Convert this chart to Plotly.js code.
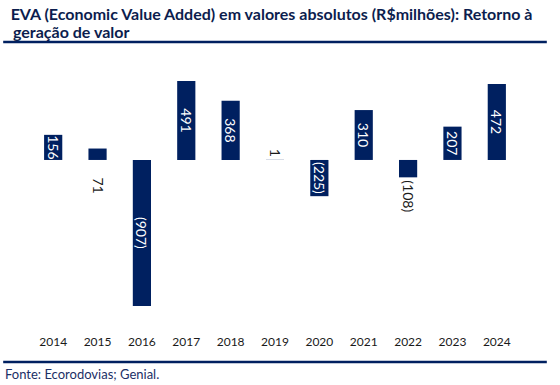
<!DOCTYPE html>
<html>
<head>
<meta charset="utf-8">
<script src="https://cdn.plot.ly/plotly-3.0.1.min.js"></script>
<style>html,body{margin:0;padding:0;background:#fff;}#chart{width:560px;height:385px;}</style>
</head>
<body>
<div id="chart"></div>
<script>
const years = ["2014","2015","2016","2017","2018","2019","2020","2021","2022","2023","2024"];
const eva = [156, 71, -907, 491, 368, 1, -225, 310, -108, 207, 472];
const labels = ["156","71","(907)","491","368","1","(225)","310","(108)","207","472"];
const labelPlacement = ["inside","below","inside","inside","inside","outside","inside","inside","outside","inside","inside"];

const titleLine1 = "EVA (Economic Value Added) em valores absolutos (R$milhões): Retorno à";
const titleLine2 = "geração de valor";
const sourceText = "Fonte: Ecorodovias; Genial.";

const navy = "#002060";
const titleColor = "#0c1d4e";
const titleFont = {family: "Lato, sans-serif", size: 16, color: titleColor, weight: "bold"};

const textpos = labelPlacement.map(p => p === "inside" ? "inside" : (p === "outside" ? "outside" : "none"));
const textcol = labelPlacement.map(p => p === "inside" ? "#ffffff" : "#1a1a1a");

const trace = {
  type: "bar",
  x: years,
  y: eva,
  text: labels,
  texttemplate: "%{text}",
  textposition: textpos,
  insidetextanchor: "middle",
  textangle: 90,
  constraintext: "none",
  cliponaxis: false,
  textfont: {family: "Lato, sans-serif", size: 14, color: textcol},
  marker: {color: navy, line: {width: 0}},
  hoverinfo: "none"
};

const annotations = [];
years.forEach((yr, i) => {
  if (labelPlacement[i] === "below") {
    annotations.push({
      x: i, y: 0, xref: "x", yref: "y",
      text: labels[i], showarrow: false, textangle: 90,
      yanchor: "middle", yshift: -25,
      font: {family: "Lato, sans-serif", size: 14, color: "#1a1a1a"}
    });
  }
});
annotations.push({
  text: titleLine2, xref: "paper", yref: "paper",
  x: -0.041, y: 1.104, xanchor: "left", yanchor: "middle", showarrow: false,
  font: titleFont
});
annotations.push({
  text: sourceText, xref: "paper", yref: "paper",
  x: -0.057, y: -0.112, xanchor: "left", yanchor: "top", showarrow: false,
  font: {family: "Lato, sans-serif", size: 13, color: "#1b2f66"}
});

const layout = {
  width: 560, height: 385,
  margin: {l: 31, r: 41, t: 60, b: 52},
  paper_bgcolor: "#ffffff", plot_bgcolor: "#ffffff",
  showlegend: false,
  bargap: 0.59,
  title: {
    text: titleLine1,
    xref: "container", yref: "container",
    x: 0.019, xanchor: "left", y: 0.963, yanchor: "middle",
    pad: {t: 0, b: 0, l: 0, r: 0},
    font: titleFont
  },
  xaxis: {
    type: "category",
    range: [-0.5, years.length - 0.5],
    showgrid: false, zeroline: false, showline: false, ticks: "",
    tickfont: {family: "Lato, sans-serif", size: 12, color: "#1a1a1a"}
  },
  yaxis: {
    range: [-1075, 621],
    visible: false, showgrid: false, zeroline: false
  },
  shapes: [
    {type: "line", xref: "paper", yref: "paper", x0: -0.057, x1: 1.057, y0: 1.066, y1: 1.066,
     line: {color: navy, width: 2.5}},
    {type: "line", xref: "paper", yref: "paper", x0: -0.057, x1: 1.057, y0: -0.106, y1: -0.106,
     line: {color: navy, width: 2.5}}
  ],
  annotations: annotations
};

Plotly.newPlot("chart", [trace], layout, {displayModeBar: false, staticPlot: true});
</script>
</body>
</html>
